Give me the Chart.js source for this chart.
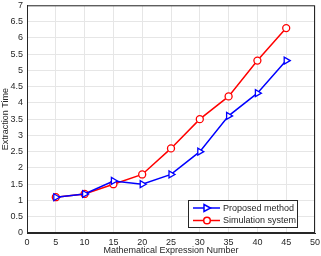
<!DOCTYPE html>
<html>
<head>
<meta charset="utf-8">
<script src="https://cdn.jsdelivr.net/npm/chart.js@4/dist/chart.umd.min.js"></script>
<style>
  html, body { margin: 0; padding: 0; background: #fff; }
  #wrap { width: 321px; height: 256px; }
</style>
</head>
<body>
<div id="wrap"><canvas id="grafico"></canvas></div>
<script>
const numeros = [5, 10, 15, 20, 25, 30, 35, 40, 45];
const proposto = [1.1, 1.2, 1.6, 1.5, 1.8, 2.5, 3.6, 4.3, 5.3];
const simulacao = [1.1, 1.2, 1.5, 1.8, 2.6, 3.5, 4.2, 5.3, 6.3];
const nomes = ['Proposed method', 'Simulation system'];
const tituloX = 'Mathematical Expression Number';
const tituloY = 'Extraction Time';

const fonte = { family: 'Liberation Sans, Arial, sans-serif', size: 9 };

const moldura = {
  id: 'moldura',
  afterDraw(chart) {
    const { ctx, chartArea: a } = chart;
    ctx.save();
    ctx.strokeStyle = '#262626';
    ctx.lineWidth = 1;
    ctx.strokeRect(a.left + 0.5, a.top + 0.5, a.right - a.left - 1, a.bottom - a.top - 1);

    // legenda
    const x0 = a.right - 127, y0 = a.bottom - 33, w = 109, h = 27;
    ctx.fillStyle = '#fff';
    ctx.fillRect(x0, y0, w, h);
    ctx.strokeStyle = '#262626';
    ctx.strokeRect(x0 + 0.5, y0 + 0.5, w, h);
    const cores = ['#0000ff', '#ff0000'];
    ctx.font = '9px Liberation Sans, Arial, sans-serif';
    ctx.textBaseline = 'middle';
    nomes.forEach((n, i) => {
      const y = y0 + 8 + i * 12.5;
      ctx.strokeStyle = cores[i];
      ctx.lineWidth = 1.5;
      ctx.beginPath();
      ctx.moveTo(x0 + 5, y);
      ctx.lineTo(x0 + 32, y);
      ctx.stroke();
      const cx = x0 + 19;
      ctx.fillStyle = '#fff';
      ctx.beginPath();
      if (i === 0) {
        ctx.moveTo(cx - 3, y - 3.5);
        ctx.lineTo(cx + 3.5, y);
        ctx.lineTo(cx - 3, y + 3.5);
        ctx.closePath();
      } else {
        ctx.arc(cx, y, 3.3, 0, Math.PI * 2);
      }
      ctx.fill();
      ctx.stroke();
      ctx.fillStyle = '#262626';
      ctx.fillText(n, x0 + 35, y + 0.5);
    });
    ctx.restore();
  }
};

new Chart(document.getElementById('grafico'), {
  type: 'line',
  data: {
    datasets: [{
      label: nomes[0],
      data: numeros.map((x, i) => ({ x, y: proposto[i] })),
      borderColor: '#0000ff',
      backgroundColor: '#ffffff',
      borderWidth: 1.5,
      pointStyle: 'triangle',
      rotation: 90,
      pointRadius: 4,
      pointBorderWidth: 1.3,
      tension: 0
    }, {
      label: nomes[1],
      data: numeros.map((x, i) => ({ x, y: simulacao[i] })),
      borderColor: '#ff0000',
      backgroundColor: '#ffffff',
      borderWidth: 1.5,
      pointStyle: 'circle',
      pointRadius: 3.5,
      pointBorderWidth: 1.3,
      tension: 0
    }]
  },
  options: {
    responsive: true,
    maintainAspectRatio: false,
    animation: false,
    layout: { padding: { top: 0, right: 0, left: 0, bottom: 0 } },
    plugins: {
      legend: { display: false },
      tooltip: { enabled: false }
    },
    scales: {
      x: {
        type: 'linear',
        min: 0, max: 50,
        ticks: { stepSize: 5, color: '#262626', font: fonte, padding: 4, maxRotation: 0 },
        grid: { color: '#e6e6e6', drawTicks: false },
        border: { color: '#262626' },
        title: { display: true, text: tituloX, color: '#262626', font: fonte, padding: { top: 1, bottom: 0 } },
        afterFit(s) { s.height = 23; s.paddingRight = 6; }
      },
      y: {
        min: 0, max: 7,
        ticks: { stepSize: 0.5, color: '#262626', font: fonte, padding: 4, callback: v => String(v) },
        grid: { color: '#e6e6e6', drawTicks: false },
        border: { color: '#262626' },
        title: { display: true, text: tituloY, color: '#262626', font: fonte, padding: 0 },
        afterFit(s) { s.width = 27; s.paddingTop = 5; }
      }
    }
  },
  plugins: [moldura]
});
</script>
</body>
</html>
